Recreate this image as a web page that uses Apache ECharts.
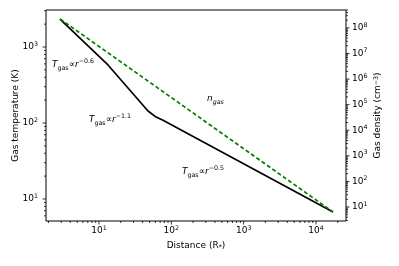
<!DOCTYPE html>
<html>
<head>
<meta charset="utf-8">
<script src="https://cdn.jsdelivr.net/npm/echarts@6/dist/echarts.min.js"></script>
<style>html,body{margin:0;padding:0;background:#fff}#c{width:399px;height:266px}</style>
</head>
<body>
<div id="c"></div>
<script>
// ---- data ----
const distanceT = [2.89, 13.3, 47.6, 59.6, 76.7, 17200];
const temperature = [2335, 580, 144, 122, 108.5, 6.75];
const distanceN = [2.89, 100, 17200];
const density = [2.24e8, 1.9e5, 6.4];
const xMajorTicks = [10, 100, 1000, 10000];
const yLeftMajorTicks = [10, 100, 1000];
const yRightMajorTicks = [10, 100, 1e3, 1e4, 1e5, 1e6, 1e7, 1e8];
const xRange = [1.85, 26000];
const yLeftRange = [5.13, 3070];
const yRightRange = [2.84, 5.0e8];

const FONT = 'DejaVu Sans';
function powLabel(v){
  const e = Math.log10(v), r = Math.round(e);
  if (Math.abs(e - r) > 1e-6) return '';
  return '{b|10}{s|' + r + '}';
}
const labelRich = {
  b: {fontFamily: FONT, fontSize: 9, color: '#000', lineHeight: 12},
  s: {fontFamily: FONT, fontSize: 6.3, color: '#000', verticalAlign: 'top', padding: [0, 0, 4, 0]}
};
function minorList(range){
  const out = [];
  const lo = Math.floor(Math.log10(range[0])), hi = Math.ceil(Math.log10(range[1]));
  for (let p = lo; p <= hi; p++) {
    for (let k = 2; k <= 9; k++) {
      const v = k * Math.pow(10, p);
      if (v >= range[0] && v <= range[1]) out.push(v);
    }
  }
  return out;
}
const xMinor = minorList(xRange), yLMinor = minorList(yLeftRange), yRMinor = minorList(yRightRange);

function tickLine(x1,y1,x2,y2){
  return {type:'line', shape:{x1,y1,x2,y2}, style:{stroke:'#000', lineWidth:0.8}, silent:true};
}
function annRich(){
  return {
    i:{fontFamily:FONT, fontStyle:'italic', fontSize:9, fill:'#000', lineHeight:13},
    b:{fontFamily:FONT, fontSize:6.3, fill:'#000', verticalAlign:'bottom', padding:[1,0,0,0]},
    m:{fontFamily:FONT, fontSize:9, fill:'#000'},
    t:{fontFamily:FONT, fontSize:6.3, fill:'#000', verticalAlign:'top', padding:[0,0,4,0]}
  };
}

const chart = echarts.init(document.getElementById('c'), null, {renderer:'canvas'});
const MAJ = 3.5, MIN = 2;

const option = {
  animation: false,
  grid: {left: 46, right: 53, top: 10, bottom: 45, outerBoundsMode: 'none', containLabel: false,
         show: true, borderColor: '#000', borderWidth: 1, backgroundColor: 'transparent'},
  xAxis: {
    type: 'log', logBase: 10, min: xRange[0], max: xRange[1],
    name: 'Distance (R{s|*})', nameLocation: 'middle', nameGap: 20, nameMoveOverlap: false,
    nameTextStyle: {fontFamily: FONT, fontSize: 9, color: '#000', rich: {s: {fontFamily: FONT, fontSize: 6.3, color:'#000', padding:[3,0,0,0]}}},
    axisLine: {show: false}, axisTick: {show: false}, splitLine: {show: false}, minorTick:{show:false},
    axisLabel: {fontFamily: FONT, fontSize: 9, color: '#000', margin: 4, formatter: powLabel, rich: labelRich, showMinLabel:false, showMaxLabel:false}
  },
  yAxis: [{
    type: 'log', logBase: 10, min: yLeftRange[0], max: yLeftRange[1],
    name: 'Gas temperature (K)', nameLocation: 'middle', nameGap: 26, nameMoveOverlap: false,
    nameTextStyle: {fontFamily: FONT, fontSize: 9, color: '#000'},
    axisLine: {show: false}, axisTick: {show: false}, splitLine: {show: false},
    axisLabel: {fontFamily: FONT, fontSize: 9, color: '#000', margin: 8, formatter: powLabel, rich: labelRich, showMinLabel:false, showMaxLabel:false}
  }, {
    type: 'log', logBase: 10, min: yRightRange[0], max: yRightRange[1], position: 'right',
    name: 'Gas density (cm{s|−3})', nameLocation: 'middle', nameGap: 27, nameRotate: 90, nameMoveOverlap: false,
    nameTextStyle: {fontFamily: FONT, fontSize: 9, color: '#000', rich: {s: {fontFamily: FONT, fontSize: 6.3, color:'#000', verticalAlign:'top', padding:[0,0,4,0]}}},
    axisLine: {show: false}, axisTick: {show: false}, splitLine: {show: false},
    axisLabel: {fontFamily: FONT, fontSize: 9, color: '#000', margin: 6, formatter: powLabel, rich: labelRich, showMinLabel:false, showMaxLabel:false}
  }],
  series: [
    {
      type: 'line', name: 'T', yAxisIndex: 0, symbol: 'none', smooth: false,
      data: distanceT.map((d,i)=>[d, temperature[i]]),
      lineStyle: {color: '#000', width: 1.7}, z: 3
    },
    {
      type: 'line', name: 'n', yAxisIndex: 1, symbol: 'none',
      data: distanceN.map((d,i)=>[d, density[i]]),
      lineStyle: {color: '#008000', width: 1.7, type: [4, 2.5]}, z: 4
    },
    {
      type: 'custom', yAxisIndex: 0, silent: true, clip: false, z: 5,
      data: [[xRange[0], yLeftRange[0]]],
      renderItem: function(params, api){
        const cs = params.coordSys;
        const bottom = cs.y + cs.height, left = cs.x;
        const ch = [];
        xMajorTicks.forEach(v => { const p = api.coord([v, yLeftRange[0]]); ch.push(tickLine(p[0], bottom, p[0], bottom+MAJ)); });
        xMinor.forEach(v => { const p = api.coord([v, yLeftRange[0]]); ch.push(tickLine(p[0], bottom, p[0], bottom+MIN)); });
        yLeftMajorTicks.forEach(v => { const p = api.coord([xRange[0], v]); ch.push(tickLine(left, p[1], left-MAJ, p[1])); });
        yLMinor.forEach(v => { const p = api.coord([xRange[0], v]); ch.push(tickLine(left, p[1], left-MIN, p[1])); });
        return {type:'group', children: ch};
      }
    },
    {
      type: 'custom', yAxisIndex: 1, silent: true, clip: false, z: 5,
      data: [[xRange[0], yRightRange[0]]],
      renderItem: function(params, api){
        const cs = params.coordSys;
        const right = cs.x + cs.width;
        const ch = [];
        yRightMajorTicks.forEach(v => { const p = api.coord([xRange[0], v]); ch.push(tickLine(right, p[1], right+MAJ, p[1])); });
        yRMinor.forEach(v => { const p = api.coord([xRange[0], v]); ch.push(tickLine(right, p[1], right+MIN, p[1])); });
        return {type:'group', children: ch};
      }
    }
  ],
  graphic: [
    {type:'text', left: 52, top: 58, style:{text: '{i|T}{b|gas}{m|∝}{i|r}{t|−0.6}', rich: annRich()}},
    {type:'text', left: 89, top: 113, style:{text: '{i|T}{b|gas}{m|∝}{i|r}{t|−1.1}', rich: annRich()}},
    {type:'text', left: 182, top: 165, style:{text: '{i|T}{b|gas}{m|∝}{i|r}{t|−0.5}', rich: annRich()}},
    {type:'text', left: 207, top: 94, style:{
      text: '{i|n}{b|gas}',
      rich: {i:{fontFamily:FONT, fontStyle:'italic', fontSize:9, fill:'#000', lineHeight:13},
             b:{fontFamily:FONT, fontStyle:'italic', fontSize:6.3, fill:'#000', verticalAlign:'bottom', padding:[1,0,0,0]}}}}
  ]
};
chart.setOption(option);
</script>
</body>
</html>
